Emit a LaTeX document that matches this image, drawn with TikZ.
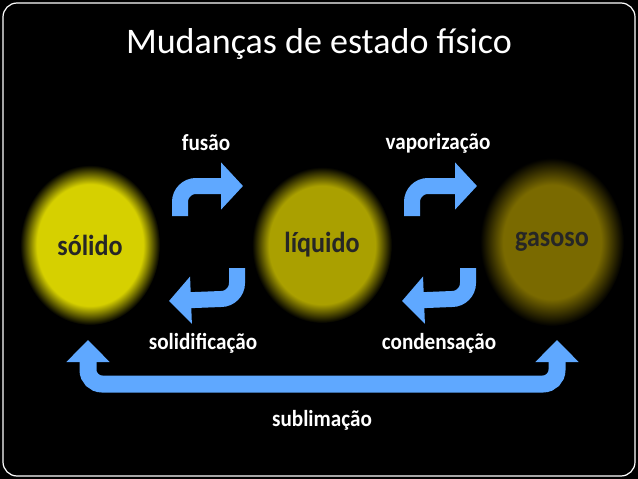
\documentclass[tikz,border=0pt]{standalone}
\usepackage{fontspec}
\setmainfont{Carlito}
\usetikzlibrary{arrows.meta}
\definecolor{cA}{RGB}{214,208,0}
\definecolor{cB}{RGB}{170,160,0}
\definecolor{cC}{RGB}{122,106,0}
\pgfdeclareradialshading{ballA}{\pgfpoint{0bp}{0bp}}{color(0bp)=(cA);color(19bp)=(cA);color(25bp)=(black);color(50bp)=(black)}
\pgfdeclareradialshading{ballB}{\pgfpoint{0bp}{0bp}}{color(0bp)=(cB);color(19bp)=(cB);color(25bp)=(black);color(50bp)=(black)}
\pgfdeclareradialshading{ballC}{\pgfpoint{0bp}{0bp}}{color(0bp)=(cC);color(17bp)=(cC);color(25bp)=(black);color(50bp)=(black)}
\definecolor{arrblue}{HTML}{5FA8FF}
\begin{document}
\begin{tikzpicture}[x=1pt,y=-1pt,
  lbl/.style={text=white,font=\bfseries\fontsize{23}{24}\selectfont,xscale=0.92},
  ball/.style={font=\bfseries\fontsize{29}{30}\selectfont,text=black!85,xscale=0.9},
  barr/.style={draw=arrblue,line width=16pt,-{Triangle[width=46pt,length=22pt]}}]
\fill[black] (0,0) rectangle (638,479);
\useasboundingbox (0,0) rectangle (638,479);
\draw[white,line width=1.2pt,rounded corners=14pt] (3,3) rectangle (635,476);
\node[text=white,font=\fontsize{36}{38}\selectfont] (title) at (319,44) {Mudanças de estado físico};
\shade[shading=ballA] (90,245) ellipse [x radius=70, y radius=80];
\shade[shading=ballB] (322,245) ellipse [x radius=70, y radius=78];
\shade[shading=ballC] (552,242) ellipse [x radius=72, y radius=84];
\node[ball] (s) at (90,245) {sólido};
\node[ball] (l) at (322,245) {líquido};
\node[ball] (g) at (552,242) {gasoso};
\coordinate (f1) at (180,216); \coordinate (f2) at (243,186);
\coordinate (d1) at (237,268); \coordinate (d2) at (169,301);
\coordinate (v1) at (412,216); \coordinate (v2) at (477,186);
\coordinate (c1) at (468,268); \coordinate (c2) at (402,301);
\draw[barr] (f1) -- ++(0,-14) arc[start angle=180,end angle=270,radius=16] -- (f2);
\draw[barr] (d1) -- ++(0,15) arc[start angle=0,end angle=90,radius=16] -- (d2);
\draw[barr] (v1) -- ++(0,-14) arc[start angle=180,end angle=270,radius=16] -- (v2);
\draw[barr] (c1) -- ++(0,15) arc[start angle=0,end angle=90,radius=16] -- (c2);
\coordinate (b1) at (88,340); \coordinate (b2) at (557,340);
\draw[draw=arrblue,line width=17pt,{Triangle[width=42pt,length=22pt]}-{Triangle[width=42pt,length=22pt]},rounded corners=14pt] (b1) -- (88,384) -- (557,384) -- (b2);
\node[lbl] at (206,143) {fusão};
\node[lbl] at (438,143) {vaporização};
\node[lbl] at (203,343) {solidificação};
\node[lbl] at (439,343) {condensação};
\node[lbl] at (322,420) {sublimação};
\end{tikzpicture}
\end{document}
